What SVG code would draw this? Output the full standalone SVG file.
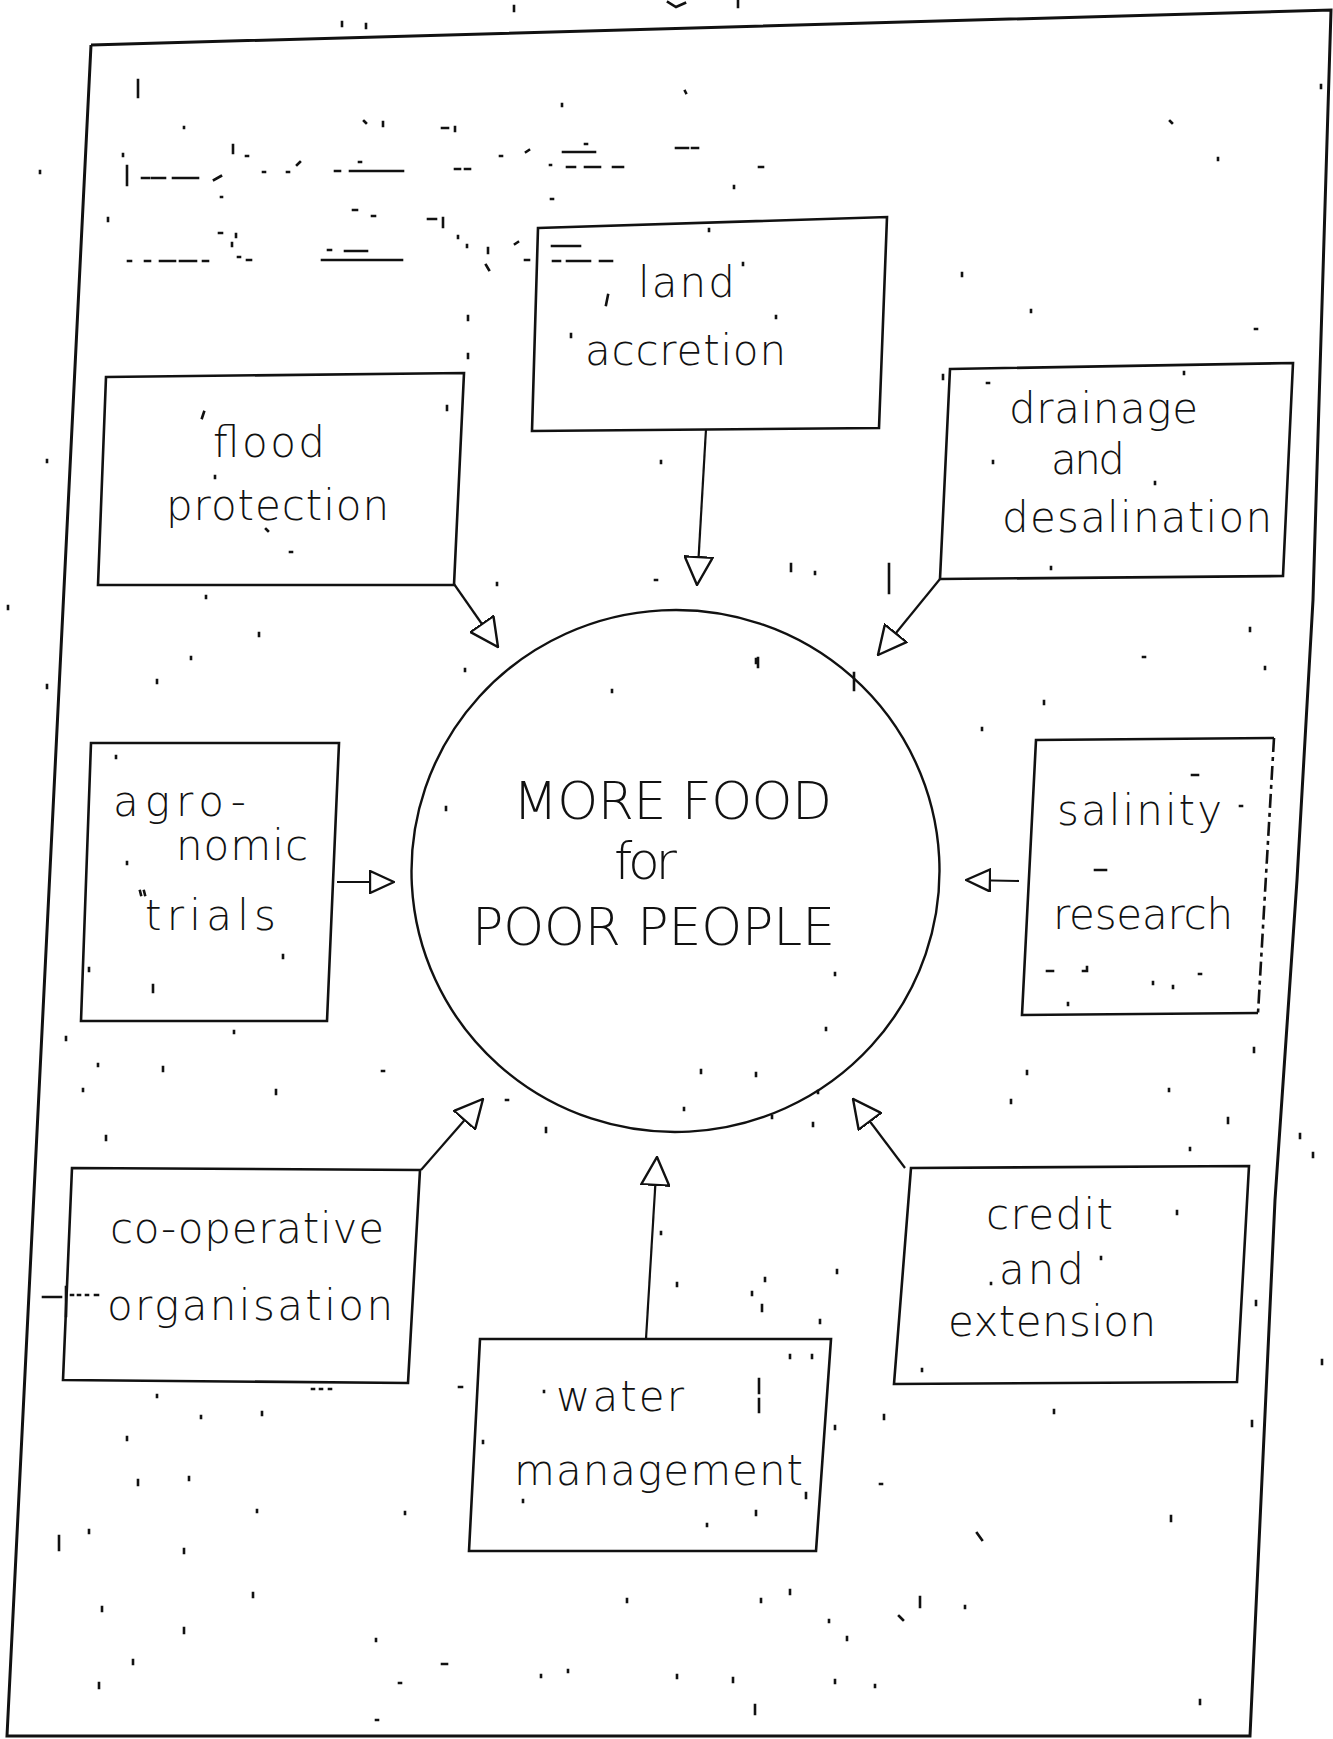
<svg xmlns="http://www.w3.org/2000/svg" width="1333" height="1739" viewBox="0 0 1333 1739">
<style>
.frame{fill:none;stroke:#111;stroke-width:3;stroke-linejoin:miter}
.box{fill:none;stroke:#111;stroke-width:2.6}
.conn{fill:none;stroke:#111;stroke-width:2.2}
.lbl{font-family:"DejaVu Sans","Liberation Sans",sans-serif;font-size:42px;font-weight:200;fill:#111}
.big{font-family:"DejaVu Sans","Liberation Sans",sans-serif;font-size:52px;font-weight:200;fill:#111}
.noise{fill:none;stroke:#111;stroke-width:2.6;stroke-linecap:square}
</style>
<defs>
<marker id="ah" viewBox="0 0 30 30" refX="29" refY="15" markerWidth="30" markerHeight="30" markerUnits="userSpaceOnUse" orient="auto" preserveAspectRatio="none">
<path d="M1,1 L29,15 L1,29 Z" fill="#fff" stroke="#111" stroke-width="2.4"/>
</marker>
<marker id="ahs" viewBox="0 0 26 24" refX="25" refY="12" markerWidth="26" markerHeight="24" markerUnits="userSpaceOnUse" orient="auto" preserveAspectRatio="none">
<path d="M1,1 L25,12 L1,23 Z" fill="#fff" stroke="#111" stroke-width="2.4"/>
</marker>
</defs>
<rect width="1333" height="1739" fill="#fff"/>

<polyline id="frame" class="frame" points="91,45 1331,10 1313,600 1297,880 1275,1200 1250,1736 7,1736 91,45"/>

<g id="connectors">
<line class="conn" x1="454" y1="584" x2="498" y2="647" marker-end="url(#ah)"/>
<line class="conn" x1="706" y1="429" x2="697" y2="585" marker-end="url(#ah)"/>
<line class="conn" x1="940" y1="579" x2="878" y2="655" marker-end="url(#ah)"/>
<line class="conn" x1="337" y1="882" x2="394" y2="882" marker-end="url(#ahs)"/>
<line class="conn" x1="1019" y1="881" x2="966" y2="880" marker-end="url(#ahs)"/>
<line class="conn" x1="421" y1="1170" x2="483" y2="1099" marker-end="url(#ah)"/>
<line class="conn" x1="646" y1="1339" x2="657" y2="1157" marker-end="url(#ah)"/>
<line class="conn" x1="905" y1="1168" x2="853" y2="1099" marker-end="url(#ah)"/>
</g>

<g id="center">
<ellipse cx="675.5" cy="871" rx="264" ry="261" fill="none" stroke="#111" stroke-width="2.4" transform="rotate(-3 675.5 871)"/>
<text class="big" x="513" y="819" textLength="319" lengthAdjust="spacing">MORE FOOD</text>
<text class="big" x="614" y="879" textLength="63" lengthAdjust="spacing">for</text>
<text class="big" x="472" y="945" textLength="363" lengthAdjust="spacing">POOR PEOPLE</text>
</g>

<g id="flood">
<polygon class="box" points="106,377 464,373 454,585 98,585"/>
<text class="lbl" x="213" y="457" textLength="112" lengthAdjust="spacing">flood</text>
<text class="lbl" x="166" y="520" textLength="223" lengthAdjust="spacing">protection</text>
</g>

<g id="land">
<polygon class="box" points="538,228 887,217 879,428 532,431"/>
<text class="lbl" x="638" y="297" textLength="97" lengthAdjust="spacing">land</text>
<text class="lbl" x="585" y="365" textLength="201" lengthAdjust="spacing">accretion</text>
</g>

<g id="drainage">
<polygon class="box" points="950,369 1293,363 1283,576 940,579"/>
<text class="lbl" x="1009" y="423" textLength="189" lengthAdjust="spacing">drainage</text>
<text class="lbl" x="1051" y="474" textLength="74" lengthAdjust="spacing">and</text>
<text class="lbl" x="1002" y="532" textLength="270" lengthAdjust="spacing">desalination</text>
</g>

<g id="agronomic">
<polygon class="box" points="91,743 339,743 327,1021 81,1021"/>
<text class="lbl" x="113" y="816" textLength="133" lengthAdjust="spacing">agro-</text>
<text class="lbl" x="176" y="860" textLength="132" lengthAdjust="spacing">nomic</text>
<text class="lbl" x="145" y="930" textLength="131" lengthAdjust="spacing">trials</text>
</g>

<g id="salinity">
<path class="box" d="M1274,738 L1036,740 L1022,1015 L1258,1013"/>
<path class="box" d="M1274,738 L1258,1013" stroke-dasharray="14,5,4,5"/>
<text class="lbl" x="1057" y="825" textLength="165" lengthAdjust="spacing">salinity</text>
<text class="lbl" x="1053" y="929" textLength="180" lengthAdjust="spacing">research</text>
</g>

<g id="cooperative">
<polygon class="box" points="72,1168 420,1170 408,1383 63,1380"/>
<text class="lbl" x="110" y="1243" textLength="274" lengthAdjust="spacing">co-operative</text>
<text class="lbl" x="107" y="1320" textLength="286" lengthAdjust="spacing">organisation</text>
</g>

<g id="water">
<polygon class="box" points="480,1339 831,1339 816,1551 469,1551"/>
<text class="lbl" x="556" y="1411" textLength="128" lengthAdjust="spacing">water</text>
<text class="lbl" x="514" y="1485" textLength="289" lengthAdjust="spacing">management</text>
</g>

<g id="credit">
<polygon class="box" points="911,1168 1249,1166 1237,1382 894,1384"/>
<text class="lbl" x="986" y="1229" textLength="127" lengthAdjust="spacing">credit</text>
<text class="lbl" x="999" y="1284" textLength="85" lengthAdjust="spacing">and</text>
<text class="lbl" x="948" y="1336" textLength="208" lengthAdjust="spacing">extension</text>
</g>

<path class="noise" d="M668,2 l8,5 l9,-4 M738,0 v7 M514,6 v5 M342,22 v4 M366,24 v4
M138,80 v17 M184,127 v1 M364,121 l2,2 M383,122 v4 M442,128 h6 M455,127 v4 M562,104 v2
M127,166 v19 M142,178 h7 M152,178 h13 M173,178 h25 M214,180 l7,-4 M123,154 v2 M233,145 v8 M246,156 h2
M263,172 h2 M287,172 h2 M297,165 l3,-3 M335,171 h5 M350,171 h53 M359,162 h2 M455,169 h5 M465,169 h5
M563,152 h32 M585,144 h2 M550,165 h1 M567,167 h8 M585,167 h15 M613,167 h10 M500,156 h2 M526,152 l3,-2 M551,199 h2 M221,197 h1
M128,261 h3 M145,261 h5 M160,261 h15 M180,261 h16 M203,261 h5 M238,257 h2 M247,260 h4 M219,233 h3 M236,234 v3 M232,243 v3
M322,260 h80 M345,251 h22 M328,250 h3 M353,210 h4 M372,216 h3 M428,219 h8 M443,218 v9
M458,236 v2 M467,245 v2 M488,248 v5 M486,265 l3,5 M515,244 l3,-2 M525,260 h4
M552,246 h28 M553,261 h7 M567,261 h23 M600,261 h12
M608,295 l-2,10 M571,334 v3 M743,263 v2 M204,412 l-2,6 M140,891 l1,4 M144,891 l1,4 M544,1391 v1 M991,1283 v1
M40,171 v2 M108,218 v3 M47,460 v2 M468,316 v4 M468,354 v4 M447,406 v4 M215,476 v2 M266,529 l2,2 M290,552 h2 M206,596 v2 M497,583 v2 M661,461 v2 M655,580 h2
M685,91 l1,2 M1170,121 l2,2 M1218,158 v2 M1321,85 v3 M734,186 v2 M759,167 h4 M676,148 h12 M692,148 h6 M962,273 v3 M1031,310 v2 M1255,329 h2 M709,229 v2 M776,316 v2
M943,375 v4 M987,383 h2 M1184,372 v2 M993,461 v2 M1155,482 v2 M1051,567 v2 M791,564 v7 M815,572 v2 M889,564 v29 M758,658 v9
M259,633 v3 M191,657 v2 M157,680 v3 M465,669 v2 M612,690 v2 M756,659 v4 M854,673 v17 M1044,701 v3 M1143,657 h2 M1250,628 v3 M1265,667 v2 M982,728 v2 M47,685 v3 M8,606 v3
M446,807 v3 M116,756 v2 M127,862 v2 M283,955 v3 M89,968 v3 M153,985 v7 M835,973 v2 M826,1028 v2 M234,1031 v2 M66,1037 v3 M98,1064 v2 M163,1067 v4 M382,1071 h2 M276,1090 v4 M83,1089 v2 M106,1136 v4
M506,1100 h2 M546,1128 v4 M684,1108 v2 M701,1070 v3 M756,1073 v3 M772,1116 v2 M813,1123 v3 M818,1091 v2 M1011,1100 v3 M1027,1071 v3 M1169,1089 v2 M1228,1118 v5 M1254,1048 v4 M1300,1134 v4 M1313,1153 v4 M1190,1148 v2
M1192,775 h6 M1240,806 h2 M1095,870 h11 M1047,971 h6 M1083,971 h2 M1087,967 v4 M1153,982 v2 M1173,986 v2 M1199,974 h2 M1068,1003 v2
M661,1232 v2 M677,1283 v3 M837,1270 v3 M765,1278 v3 M752,1292 v3 M762,1305 v6 M820,1320 v3 M1177,1211 v3 M1101,1257 v2 M1256,1301 v4 M922,1369 v2 M1322,1360 v4
M43,1297 h18 M66,1287 v29 M71,1295 h2 M78,1295 h2 M86,1295 h2 M95,1295 h3 M312,1389 h2 M320,1389 h2 M329,1389 h2
M157,1395 v2 M201,1416 v2 M262,1412 v3 M127,1437 v3 M459,1387 h3 M483,1441 v2 M790,1355 v3 M812,1355 v3 M759,1379 v14 M759,1399 v13 M835,1426 v3 M884,1415 v4 M1054,1410 v3 M1252,1421 v5
M138,1480 v5 M189,1477 v3 M523,1500 v2 M806,1493 v5 M880,1484 h2 M756,1511 v4 M707,1524 v2 M1171,1516 v5 M977,1533 l5,7 M257,1510 v2 M405,1512 v2 M89,1530 v3 M59,1536 v14 M184,1549 v4
M253,1593 v4 M102,1607 v4 M184,1628 v5 M376,1639 v2 M627,1599 v3 M761,1599 v3 M790,1590 v4 M920,1597 v10 M965,1606 v2 M899,1616 l4,4 M829,1620 v2 M847,1637 v3
M133,1660 v4 M442,1664 h5 M541,1675 v2 M568,1670 v2 M677,1675 v3 M733,1678 v4 M835,1680 v3 M875,1685 v2 M99,1683 v5 M399,1683 h2 M1200,1700 v4 M755,1705 v9 M376,1720 h2"/>
</svg>
